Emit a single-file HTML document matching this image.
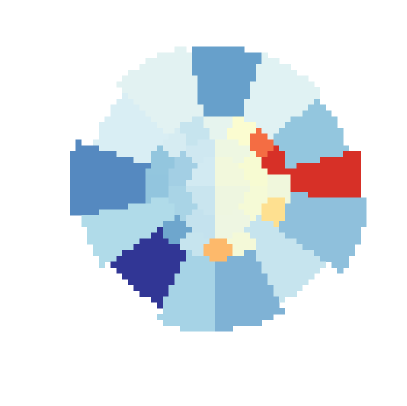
<!DOCTYPE html>
<html><head><meta charset="utf-8"><style>
html,body{margin:0;padding:0;background:#fff;width:407px;height:406px;overflow:hidden}
svg{display:block}
</style></head><body>
<svg id="chart" width="407" height="406" viewBox="0 0 407 406" shape-rendering="crispEdges"></svg>
<script>
// Outer ring sectors (degrees clockwise from north), colours, radius in data units
const outerStart = [-12, 18, 48, 75, 95, 125, 152, 180, 205, 235, 258, 288, 315];
const outerEnd   = [18, 48, 75, 95, 125, 152, 180, 205, 235, 258, 288, 315, 348];
const outerColor = ['#67a0cb','#e0f2f3','#93c6de','#d73027','#8fc0dc','#c6e4ee','#7fb2d5','#a6d3e6','#313695','#b0dbe9','#5589c0','#d9eef4','#e2f2f2'];
const outerRadius = [140, 140, 135, 145, 150, 132, 142, 147, 132, 140, 150, 132, 145];
// Middle ring, outer half: 16 equal sectors
const midColor = ['#e6f4ee','#fbfcd0','#f46d43','#d73027','#f0f7dc','#fee090','#c6e4ee','#f4f9d8','#fdb96b','#c6e4ee','#6ea6cd','#b0dbe9','#92c5de','#93c6de','#d6ecf2','#c6e4ee'];
// Middle ring, inner half: 8 equal sectors
const innerColor = ['#eef7e2','#f7fbd2','#f5fad6','#eef6e2','#c4e2ee','#a9d4e6','#a3cfe4','#cfe8f1'];
const midInner = 30, midSplit = 50, midOuter = 72;
// Core quadrants (NE, SE, SW, NW)
const coreColor = ['#f2f8dc','#eef6e0','#c9e5ef','#d2eaf2'];

const svg = document.getElementById('chart');
const NS = 'http://www.w3.org/2000/svg';
const N = 70, cell = 407/70;
const cx = 218, cy = 187;
function angleOf(dx, dy){ let a = Math.atan2(dx, -dy)*180/Math.PI; if(a < -12) a += 360; return a; }
function colorAt(x, y){
  const dx = x - cx, dy = y - cy, r = Math.hypot(dx, dy);
  let a = angleOf(dx, dy);
  let a2 = (a + 360) % 360;
  if (r < midInner) return coreColor[Math.floor(a2/90) % 4];
  if (r < midSplit) return innerColor[Math.floor(a2/45) % 8];
  if (r < midOuter){
    let a3 = ((a + 11.25) % 360 + 360) % 360;
    return midColor[Math.floor(a3/22.5) % 16];
  }
  for (let i = 0; i < outerStart.length; i++){
    if (a >= outerStart[i] && a < outerEnd[i]){
      return r < outerRadius[i] ? outerColor[i] : null;
    }
  }
  return null;
}
for (let j = 0; j < N; j++){
  for (let i = 0; i < N; i++){
    const x = (i + 0.5)*cell, y = (j + 0.5)*cell;
    const c = colorAt(x, y);
    if (!c) continue;
    const rect = document.createElementNS(NS, 'rect');
    
    
    rect.setAttribute('x', (i*cell).toFixed(2));
    rect.setAttribute('y', (j*cell).toFixed(2));
    rect.setAttribute('width', (cell+0.3).toFixed(2));
    rect.setAttribute('height', (cell+0.3).toFixed(2));
    rect.setAttribute('fill', c);
    svg.appendChild(rect);
  }
}
</script>
</body></html>
